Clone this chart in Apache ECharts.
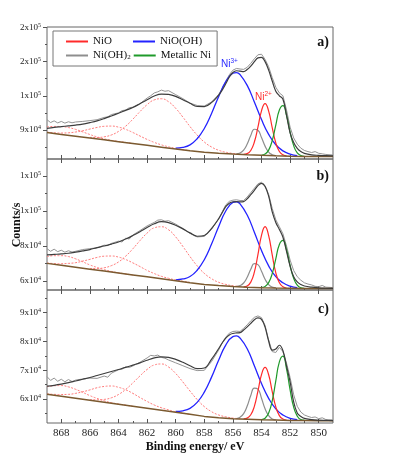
<!DOCTYPE html>
<html lang="en">

<head>
    <meta charset="UTF-8">
    <title>Ni 2p XPS</title>
    <script src="https://cdn.jsdelivr.net/npm/echarts@6/dist/echarts.min.js"></script>
    <style>
        * {
            margin: 0;
            padding: 0
        }

        html,
        body {
            width: 100%;
            height: 100%;
            background: #fff;
        }

        #main {
            width: 393px;
            height: 455px;
        }
    </style>
</head>

<body>
    <div id="main"></div>
    <script type="text/javascript">
        // binding energy grids (eV)
        var eBg = [869, 868, 867, 866, 865, 864, 863, 862, 861, 860, 859, 858, 857, 856, 855, 854, 853, 852, 851, 850, 849];
        var eS3 = [869, 868.5, 868, 867.5, 867, 866.5, 866, 865.5, 865, 864.5, 864, 863];
        var eS2 = [869, 868.5, 868, 867.5, 867, 866.5, 866, 865.5, 865, 864.5, 864, 863.5, 863, 862.5, 862, 861.5, 861, 860.5, 860, 859.5, 859];
        var eS1 = [866, 865.5, 865, 864.5, 864, 863.5, 863, 862.5, 862, 861.5, 861, 860.5, 860, 859.5, 859, 858.5, 858, 857.5, 857, 856.5, 856, 855.5];
        var eBlue = [860, 859.5, 859, 858.5, 858, 857.5, 857, 856.5, 856, 855.75, 855.5, 855, 854.5, 854, 853.5, 853, 852.5, 852, 851.5];
        var eRed = [855.25, 855, 854.75, 854.5, 854.25, 854, 853.75, 853.5, 853.25, 853, 852.75, 852.5, 852.25];
        var eGray = [855.75, 855.5, 855.25, 855, 854.75, 854.5, 854.25, 854, 853.75, 853.5, 853.25, 853];
        var eGreen = [854, 853.75, 853.5, 853.25, 853, 852.75, 852.5, 852.25, 852, 851.75, 851.5, 851.25, 851];
        var eFit = [869, 868.5, 868, 867.5, 867, 866.5, 866, 865.5, 865, 864.5, 864, 863.5, 863, 862.5, 862, 861.5, 861, 860.5, 860, 859.5, 859, 858.5, 858, 857.5,
            857, 856.75, 856.5, 856.25, 856, 855.75, 855.5, 855.25, 855, 854.75, 854.5, 854.25, 854, 853.75, 853.5, 853.25, 853, 852.75, 852.5, 852.25, 852, 851.75, 851.5, 851.25, 851,
            850.5, 850, 849.5, 849];
        var eRaw = [869, 868.75, 868.5, 868.25, 868, 867.75, 867.5, 867.25, 867, 866.5, 866, 865.5, 865, 864.75, 864.5, 864, 863.75, 863.5, 863.25, 863,
            862.5, 862, 861.75, 861.5, 861.25, 861, 860.75, 860.5, 860, 859.5, 859, 858.5, 858, 857.5, 857, 856.75, 856.5, 856.25, 856,
            855.75, 855.5, 855.25, 855, 854.75, 854.5, 854.25, 854, 853.75, 853.5, 853.25, 853, 852.75, 852.5, 852.25, 852,
            851.75, 851.5, 851.25, 851, 850.75, 850.5, 850.25, 850, 849.75, 849.5, 849];

        // counts/s in units of 10^3
        // panel a
        var bgA = [87.7, 86.1, 84.5, 82.9, 81.3, 79.7, 78.1, 76.5, 74.9, 73.3, 71.7, 70.4, 69.5, 68.8, 68.2, 67.7, 67.3, 67.0, 66.8, 66.7, 66.6];
        var satA3 = [92.6, 93.1, 93.0, 92.1, 90.5, 88.3, 86.0, 83.9, 82.2, 80.9, 79.9, 78.1];
        var satA2 = [88.0, 87.5, 87.3, 87.5, 88.2, 89.3, 90.8, 92.2, 93.2, 93.4, 92.5, 90.5, 87.8, 84.7, 81.7, 79.1, 76.9, 75.2, 73.8, 72.7, 71.8];
        var satA1 = [83.5, 83.4, 84.0, 85.6, 88.7, 93.3, 99.4, 106.1, 112.2, 116.4, 117.4, 114.8, 109.0, 101.3, 93.0, 85.5, 79.4, 75.1, 72.2, 70.5, 69.4, 68.7];
        var niOOHA = [74.1, 74.7, 76.9, 82.3, 91.3, 104.3, 119.2, 132.4, 139.8, 140.4, 138.6, 129.1, 114.6, 99.1, 86.1, 77.0, 71.6, 68.8, 67.5];
        var niOA = [68.6, 69.2, 72.0, 79.4, 92.4, 106.8, 113.2, 106.6, 92.0, 78.7, 71.1, 68.2, 67.3];
        var niOH2A = [69.0, 69.7, 72.3, 77.7, 85.2, 90.6, 89.7, 83.3, 75.8, 70.6, 68.3, 67.5];
        var niA = [68.0, 68.9, 72.3, 80.7, 94.3, 107.5, 111.4, 102.7, 88.1, 76.2, 69.8, 67.6, 66.9];
        var fitA = [91.4, 92.2, 92.9, 93.6, 94.3, 95.2, 96.5, 98.0, 100.0, 102.3, 104.7, 107.2, 109.7, 113.0, 116.5, 119.8, 121.5, 121.2, 119.5, 116.5, 113.4, 110.6, 110.5, 114.0,
            120.5, 125.0, 130.5, 136.5, 140.5, 142.0, 141.6, 141.2, 143.0, 146.0, 150.0, 153.3, 153.8, 150.0, 142.5, 133.0, 124.0, 120.0, 117.0, 103.0, 87.5, 79.0, 73.8, 71.0, 69.5,
            68.2, 67.7, 67.4, 67.2];
        var rawA = [99.0, 96.5, 98.0, 96.2, 97.5, 96.0, 97.2, 96.3, 97.0, 97.5, 98.2, 99.0, 101.0, 101.5, 103.5, 105.0, 107.0, 107.5, 109.5, 110.0,
            113.0, 118.0, 120.0, 122.5, 123.5, 125.0, 124.0, 124.5, 121.0, 117.5, 113.5, 111.5, 111.0, 114.5, 121.0, 126.5, 132.5, 138.5, 142.5,
            144.0, 143.5, 143.2, 145.0, 148.5, 152.5, 156.0, 156.5, 152.0, 145.5, 136.0, 127.5, 122.5, 120.0, 107.5, 92.5,
            83.0, 77.5, 74.0, 72.0, 71.0, 70.2, 71.0, 69.5, 69.0, 68.5, 68.0];

        // panel b
        var bgB = [70.1, 69.0, 67.9, 66.8, 65.7, 64.6, 63.5, 62.4, 61.3, 60.2, 59.1, 58.1, 57.4, 56.9, 56.5, 56.2, 56.0, 55.9, 55.8, 55.8, 55.7];
        var satB3 = [74.0, 74.5, 74.5, 74.0, 72.7, 71.0, 69.2, 67.8, 66.5, 65.5, 64.7, 63.5];
        var satB2 = [70.3, 70.0, 69.9, 70.1, 70.5, 71.4, 72.4, 73.5, 74.2, 74.3, 73.7, 72.3, 70.4, 68.3, 66.1, 64.3, 62.7, 61.6, 60.6, 59.9, 59.2];
        var satB1 = [67.2, 67.2, 67.6, 68.8, 70.9, 74.2, 78.4, 83.1, 87.4, 90.4, 91.0, 89.3, 85.2, 79.8, 74.0, 68.7, 64.4, 61.4, 59.3, 58.1, 57.3, 56.9];
        var niOOHB = [60.7, 61.2, 62.6, 66.2, 72.2, 81.0, 91.0, 100.0, 104.9, 105.3, 104.1, 97.7, 87.9, 77.4, 68.7, 62.5, 59.0, 57.1, 56.3];
        var niOB = [56.7, 57.2, 59.4, 65.1, 75.1, 86.1, 91.1, 86.0, 74.9, 64.7, 59.0, 56.7, 56.0];
        var niOH2B = [56.95, 57.4, 58.9, 62.2, 66.7, 69.95, 69.4, 65.6, 61.05, 58.0, 56.55, 56.1];
        var niB = [56.4, 56.95, 59.1, 64.25, 72.7, 80.9, 83.25, 77.9, 68.9, 61.55, 57.65, 56.2, 55.9];
        var fitB = [74.9, 75.2, 75.5, 75.9, 76.5, 77.2, 78.0, 79.1, 80.0, 81.1, 82.3, 84.0, 86.0, 88.2, 90.6, 92.7, 93.9, 93.4, 91.9, 89.8, 87.5, 85.6, 86.0, 90.0,
            95.5, 99.0, 102.5, 104.5, 105.2, 105.4, 105.2, 105.4, 107.0, 109.3, 111.8, 114.5, 115.8, 114.0, 108.5, 99.5, 93.5, 89.5, 85.0, 77.0, 68.5, 62.5, 59.5, 58.0, 57.2,
            56.5, 56.1, 55.9, 55.8];
        var rawB = [78.5, 77.0, 78.2, 76.8, 77.6, 76.5, 77.3, 76.6, 77.0, 78.0, 78.5, 79.0, 80.5, 80.3, 81.5, 82.8, 82.3, 84.5, 84.0, 86.3,
            88.8, 91.5, 92.5, 93.5, 94.8, 95.0, 94.2, 94.5, 92.5, 90.0, 87.2, 85.2, 85.5, 89.5, 95.5, 99.5, 103.5, 105.5, 106.2,
            106.4, 106.0, 106.0, 108.0, 110.5, 113.0, 115.5, 116.4, 114.5, 109.5, 101.5, 95.0, 91.0, 87.0, 80.0, 72.0,
            66.0, 62.5, 60.5, 59.0, 58.3, 57.8, 57.0, 56.8, 57.5, 56.5, 56.3];

        // panel c
        var bgC = [61.7, 61.0, 60.3, 59.6, 58.9, 58.2, 57.5, 56.8, 56.1, 55.4, 54.7, 54.0, 53.5, 53.2, 53.0, 52.8, 52.7, 52.6, 52.6, 52.5, 52.5];
        var satC3 = [64.3, 64.65, 64.7, 64.25, 63.4, 62.35, 61.2, 60.25, 59.4, 58.75, 58.3, 57.5];
        var satC2 = [61.8, 61.65, 61.6, 61.65, 62.0, 62.55, 63.2, 63.95, 64.4, 64.55, 64.1, 63.25, 62.0, 60.55, 59.2, 57.95, 57.0, 56.25, 55.6, 55.15, 54.7];
        var satC1 = [59.8, 59.75, 59.9, 60.45, 61.6, 63.35, 65.6, 68.05, 70.3, 71.85, 72.2, 71.15, 68.9, 65.95, 62.8, 59.85, 57.4, 55.65, 54.5, 53.85, 53.4, 53.2];
        var niOOHC = [55.7, 55.95, 56.8, 58.85, 62.4, 67.55, 73.5, 78.75, 81.7, 81.95, 81.2, 77.5, 71.6, 65.4, 60.25, 56.6, 54.45, 53.3, 52.9];
        var niOC = [53.15, 53.4, 54.55, 57.5, 62.75, 68.5, 71.05, 68.45, 62.6, 57.3, 54.25, 53.05, 52.7];
        var niOH2C = [53.25, 53.7, 54.95, 57.6, 61.25, 63.8, 63.45, 60.3, 56.65, 54.25, 53.1, 52.8];
        var niC = [52.9, 53.35, 55.15, 59.4, 66.3, 72.95, 74.95, 70.5, 63.2, 57.2, 54.1, 52.9, 52.7];
        var fitC = [64.5, 64.8, 65.2, 65.7, 66.3, 66.9, 67.5, 68.2, 68.9, 69.6, 70.3, 71.0, 71.8, 72.6, 73.5, 74.3, 74.7, 74.5, 73.8, 72.8, 71.6, 70.6, 70.8, 73.8,
            77.5, 79.5, 81.2, 82.3, 82.8, 83.0, 83.1, 84.0, 85.1, 86.3, 87.6, 88.2, 87.7, 85.0, 80.2, 77.0, 77.4, 78.7, 76.8, 71.5, 66.0, 59.0, 55.2, 54.0, 53.3,
            52.9, 52.7, 52.6, 52.5];
        var rawC = [67.8, 66.5, 67.3, 66.2, 66.9, 66.0, 66.8, 66.1, 66.6, 67.0, 67.3, 67.2, 68.0, 67.6, 69.0, 70.2, 70.4, 71.2, 71.0, 71.5,
            72.8, 74.3, 75.2, 75.0, 75.3, 74.5, 74.2, 73.6, 72.6, 71.6, 70.6, 69.9, 70.0, 73.0, 77.0, 79.5, 81.5, 82.9, 83.5,
            83.6, 83.5, 84.6, 85.8, 87.2, 88.4, 88.9, 88.3, 85.6, 80.5, 76.5, 76.2, 78.0, 76.5, 72.5, 67.5,
            61.5, 57.5, 55.5, 54.5, 54.0, 53.6, 53.8, 53.2, 53.5, 52.9, 52.8];

        // axis ticks and labels
        var xMajor = [850, 852, 854, 856, 858, 860, 862, 864, 866, 868];
        var xMinor = [851, 853, 855, 857, 859, 861, 863, 865, 867];
        var yTicksA = [90, 120, 150, 180], yMinorA = [75, 105, 135, 165];
        var yLabelsA = ['9x10^4', '1x10^5', '2x10^5', '2x10^5'];
        var yTicksB = [60, 80, 100, 120], yMinorB = [70, 90, 110];
        var yLabelsB = ['6x10^4', '8x10^4', '1x10^5', '1x10^5'];
        var yTicksC = [60, 70, 80, 90], yMinorC = [55, 65, 75, 85, 95];
        var yLabelsC = ['6x10^4', '7x10^4', '8x10^4', '9x10^4'];

        var panels = [
            { tag: 'a)', top: 27, height: 132, yMin: 64.5, yMax: 180.4, ticks: yTicksA, minor: yMinorA, labels: yLabelsA,
              bg: bgA, s1: satA1, s2: satA2, s3: satA3, blue: niOOHA, red: niOA, gray: niOH2A, green: niA, fit: fitA, raw: rawA },
            { tag: 'b)', top: 159, height: 131, yMin: 54.9, yMax: 129.7, ticks: yTicksB, minor: yMinorB, labels: yLabelsB,
              bg: bgB, s1: satB1, s2: satB2, s3: satB3, blue: niOOHB, red: niOB, gray: niOH2B, green: niB, fit: fitB, raw: rawB },
            { tag: 'c)', top: 290, height: 133, yMin: 51.7, yMax: 97.9, ticks: yTicksC, minor: yMinorC, labels: yLabelsC,
              bg: bgC, s1: satC1, s2: satC2, s3: satC3, blue: niOOHC, red: niOC, gray: niOH2C, green: niC, fit: fitC, raw: rawC }
        ];

        var serif = '"Liberation Serif", "Times New Roman", serif';
        var axisColor = '#555';
        var grid = [], xAxis = [], yAxis = [], series = [];

        function pairs(xs, ys) {
            return xs.map(function (x, i) {
                return [x, ys[i]];
            });
        }

        panels.forEach(function (p, k) {
            grid.push({
                left: 47, right: 60, top: p.top, height: p.height, show: true,
                borderColor: '#666', borderWidth: 1, backgroundColor: 'transparent', outerBoundsMode: 'none'
            });
            var xi = xAxis.length, yi = yAxis.length;
            var xBase = { type: 'value', gridIndex: k, min: 849, max: 869, inverse: true,
                axisLine: { show: false }, splitLine: { show: false } };
            // bottom major / minor ticks
            xAxis.push(Object.assign({}, xBase, {
                position: 'bottom',
                axisTick: { inside: true, length: 4, customValues: xMajor, lineStyle: { color: axisColor } },
                axisLabel: { show: k === 2, customValues: xMajor, margin: 5, fontSize: 11, fontFamily: serif, color: '#222' }
            }));
            xAxis.push(Object.assign({}, xBase, {
                position: 'bottom',
                axisTick: { inside: true, length: 2, customValues: xMinor, lineStyle: { color: axisColor } },
                axisLabel: { show: false }
            }));
            if (k > 0) {
                xAxis.push(Object.assign({}, xBase, {
                    position: 'top',
                    axisTick: { inside: true, length: 4, customValues: xMajor, lineStyle: { color: axisColor } },
                    axisLabel: { show: false }
                }));
            }
            var yBase = { type: 'value', gridIndex: k, min: p.yMin, max: p.yMax, position: 'left',
                axisLine: { show: false }, splitLine: { show: false } };
            yAxis.push(Object.assign({}, yBase, {
                axisTick: { length: 4, customValues: p.ticks, lineStyle: { color: axisColor } },
                axisLabel: {
                    customValues: p.ticks, margin: 6,
                    formatter: function (v) {
                        var i = p.ticks.indexOf(v);
                        if (i < 0) return '';
                        var t = p.labels[i].split('^');
                        return '{m|' + t[0] + '}{e|' + t[1] + '}';
                    },
                    rich: {
                        m: { fontSize: 9, fontFamily: serif, color: '#222', lineHeight: 11 },
                        e: { fontSize: 6, fontFamily: serif, color: '#222', lineHeight: 6, verticalAlign: 'top' }
                    }
                }
            }));
            yAxis.push(Object.assign({}, yBase, {
                axisTick: { length: 2, customValues: p.minor, lineStyle: { color: axisColor } },
                axisLabel: { show: false }
            }));

            function line(name, xs, ys, color, width, dash, smooth, z) {
                series.push({
                    type: 'line', name: name, xAxisIndex: xi, yAxisIndex: yi,
                    data: pairs(xs, ys), showSymbol: false, smooth: smooth, color: color,
                    lineStyle: { color: color, width: width, type: dash || 'solid' },
                    itemStyle: { color: color }, z: z, silent: true
                });
            }
            line('raw', eRaw, p.raw, '#949494', 1, null, false, 2);
            line('sat', eS3, p.s3, '#ff7b7b', 1, [2, 1.5], 0.5, 3);
            line('sat', eS2, p.s2, '#ff7b7b', 1, [2, 1.5], 0.5, 3);
            line('sat', eS1, p.s1, '#ff7b7b', 1, [2, 1.5], 0.5, 3);
            line('NiO(OH)', eBlue, p.blue, '#2323ff', 1.3, null, 0.5, 4);
            line('Ni(OH)2', eGray, p.gray, '#8e8e8e', 1.2, null, 0.5, 4);
            line('NiO', eRed, p.red, '#ff2a2a', 1.2, null, 0.5, 5);
            line('Metallic Ni', eGreen, p.green, '#1f9a2a', 1.2, null, 0.5, 5);
            line('bg', eBg, p.bg, '#7b5a30', 1.5, null, false, 6);
            line('fit', eFit, p.fit, '#3d3d3d', 1.2, null, 0.4, 7);
        });

        var graphic = [
            { type: 'text', x: 17, y: 225, rotation: Math.PI / 2,
              style: { text: 'Counts/s', font: 'bold 12px ' + serif, fill: '#111', align: 'center', verticalAlign: 'middle' } },
            { type: 'text', x: 195, y: 447,
              style: { text: 'Binding energy/ eV', font: 'bold 12px ' + serif, fill: '#111', align: 'center', verticalAlign: 'middle' } },
            { type: 'text', x: 221, y: 58,
              style: { text: '{m|Ni}{e|3+}', rich: {
                  m: { fontSize: 10, fontFamily: '"Liberation Sans", Arial, sans-serif', fill: '#2b2bff', lineHeight: 12 },
                  e: { fontSize: 6.5, fontFamily: '"Liberation Sans", Arial, sans-serif', fill: '#2b2bff', lineHeight: 7, verticalAlign: 'top' } } } },
            { type: 'text', x: 255, y: 91,
              style: { text: '{m|Ni}{e|2+}', rich: {
                  m: { fontSize: 10, fontFamily: '"Liberation Sans", Arial, sans-serif', fill: '#ff3030', lineHeight: 12 },
                  e: { fontSize: 6.5, fontFamily: '"Liberation Sans", Arial, sans-serif', fill: '#ff3030', lineHeight: 7, verticalAlign: 'top' } } } }
        ];
        var tagY = [42, 176, 309];
        panels.forEach(function (p, k) {
            graphic.push({ type: 'text', x: 329, y: tagY[k],
                style: { text: p.tag, font: 'bold 14px ' + serif, fill: '#111', align: 'right', verticalAlign: 'middle' } });
        });

        var myChart = echarts.init(document.getElementById('main'));
        var option = {
            animation: false,
            backgroundColor: '#fff',
            grid: grid,
            xAxis: xAxis,
            yAxis: yAxis,
            legend: {
                data: ['NiO', 'NiO(OH)', 'Ni(OH)2', 'Metallic Ni'],
                left: 53, top: 31, width: 150,
                padding: [5, 6, 5, 13],
                borderColor: '#777', borderWidth: 1,
                itemGap: 3, itemWidth: 22, itemHeight: 2,
                icon: 'rect', selectedMode: false,
                textStyle: {
                    fontFamily: serif, fontSize: 11, color: '#111', width: 37, lineHeight: 11,
                    rich: {
                        t: { fontFamily: serif, fontSize: 11, color: '#111', lineHeight: 11 },
                        s: { fontFamily: serif, fontSize: 7, color: '#111', lineHeight: 6, verticalAlign: 'bottom' }
                    }
                },
                formatter: function (n) {
                    return n === 'Ni(OH)2' ? '{t|Ni(OH)}{s|2}' : n;
                }
            },
            graphic: graphic,
            series: series
        };
        myChart.setOption(option);
    </script>
</body>

</html>
